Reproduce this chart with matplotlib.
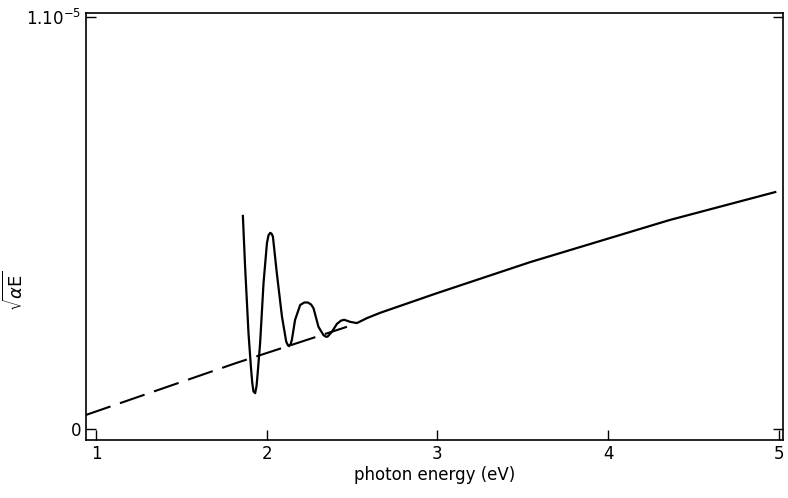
import matplotlib
matplotlib.use('Agg')
import matplotlib.pyplot as plt

# measured curve (photon energy in eV, sqrt(alpha*E) in units of 1e-5)
energy = [1.860, 1.873, 1.893, 1.907, 1.915, 1.922, 1.932, 1.940, 1.945, 1.961,
          1.981, 2.001, 2.010, 2.020, 2.028, 2.036, 2.059, 2.089, 2.114, 2.124,
          2.131, 2.140, 2.147, 2.166, 2.196, 2.220, 2.241, 2.260, 2.274, 2.303,
          2.332, 2.346, 2.356, 2.382, 2.411, 2.435, 2.454, 2.489, 2.528, 2.587,
          2.665, 3.000, 3.544, 4.000, 4.360, 4.980]
sqrt_aE = [0.517, 0.394, 0.232, 0.151, 0.112, 0.091, 0.087, 0.104, 0.127, 0.208,
           0.354, 0.451, 0.470, 0.476, 0.474, 0.467, 0.378, 0.273, 0.212, 0.203,
           0.201, 0.206, 0.216, 0.265, 0.301, 0.307, 0.307, 0.302, 0.293, 0.248,
           0.228, 0.224, 0.224, 0.236, 0.255, 0.263, 0.265, 0.260, 0.257, 0.269,
           0.282, 0.330, 0.405, 0.462, 0.507, 0.575]

# extrapolated straight line (dashed)
fit_energy = [0.94, 1.82, 2.47]
fit_vals = [0.034, 0.160, 0.248]

xticks = [1, 2, 3, 4, 5]
yticks = [0, 1]
ytick_labels = ['0', r'$\mathregular{1.10^{-5}}$']

fig = plt.figure(figsize=(7.88, 4.98), dpi=100)
ax = fig.add_axes([0.109, 0.1165, 0.885, 0.8575])

ax.plot(fit_energy, fit_vals, color='black', lw=1.5, linestyle=(0, (12.5, 4.8)))
ax.plot(energy, sqrt_aE, color='black', lw=1.6)

ax.set_xlim(0.94, 5.027)
ax.set_ylim(-0.0267, 1.0097)
ax.set_xticks(xticks)
ax.set_yticks(yticks)
ax.set_yticklabels(ytick_labels)
ax.tick_params(direction='in', length=7, width=1, labelsize=12, right=True, colors='black')
ax.tick_params(axis='y', pad=3)
for s in ax.spines.values():
    s.set_linewidth(1.2)

ax.set_xlabel('photon energy (eV)', fontsize=12, labelpad=2)
ax.set_ylabel(r'$\sqrt{\alpha \mathrm{E}}$', fontsize=13)
ax.yaxis.set_label_coords(-0.085, 0.35)

plt.savefig('out.png', dpi=100)
